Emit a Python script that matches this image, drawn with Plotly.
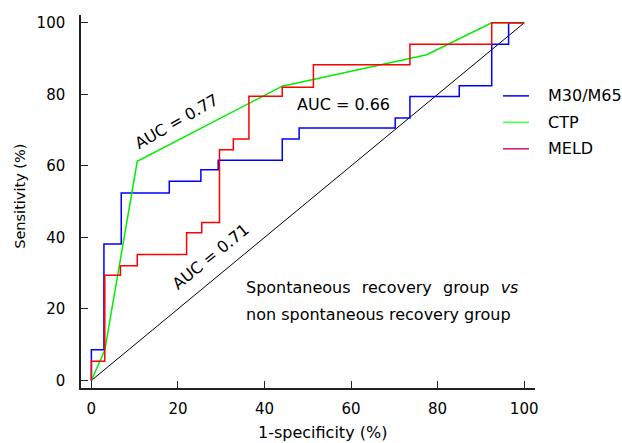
import plotly.graph_objects as go

# ---- data ----
m30_x = [0, 0, 2.9, 6.9, 18.0, 25.3, 29.3, 44.1, 48.0, 70.2, 73.6, 85.0, 92.5, 96.4, 100]
m30_y = [0, 8.6, 38.2, 52.4, 55.7, 58.9, 61.6, 67.5, 70.6, 73.4, 79.4, 82.4, 94.0, 100, 100]

ctp_x = [0, 3.1, 10.6, 44.1, 77.5, 92.5, 100]
ctp_y = [0, 8.5, 61.3, 82.3, 91.1, 100, 100]

meld_x = [0, 0, 3.1, 6.7, 10.6, 22.0, 25.5, 29.6, 32.8, 36.4, 44.1, 51.3, 73.6, 92.5, 100]
meld_y = [0, 5.4, 29.4, 32.1, 35.2, 41.3, 44.2, 64.5, 67.5, 79.5, 82.0, 88.3, 94.0, 100, 100]

ref_x = [0, 100]
ref_y = [0, 100]

series_names = ["M30/M65", "CTP", "MELD"]
legend_colors = ["#0000ff", "#44ff44", "#d0107a"]
tick_vals = [0, 20, 40, 60, 80, 100]
tick_text = ["0", "20", "40", "60", "80", "100"]

FONT = "DejaVu Sans"

fig = go.Figure()
fig.add_trace(go.Scatter(x=ref_x, y=ref_y, mode="lines",
                         line=dict(color="black", width=1), showlegend=False, hoverinfo="skip"))
fig.add_trace(go.Scatter(x=m30_x, y=m30_y, mode="lines", name=series_names[0],
                         line=dict(color="#0000ff", width=1.5, shape="hv"), showlegend=False))
fig.add_trace(go.Scatter(x=ctp_x, y=ctp_y, mode="lines", name=series_names[1],
                         line=dict(color="#00ee00", width=1.5), showlegend=False))
fig.add_trace(go.Scatter(x=meld_x, y=meld_y, mode="lines", name=series_names[2],
                         line=dict(color="#ff0000", width=1.5, shape="hv"), showlegend=False))

L, R, T, B = 81, 87, 15, 54.5
W, H = 622, 443
pw, ph = W - L - R, H - T - B

def px_x(p):
    return (p - L) / pw

def px_y(p):
    return (H - B - p) / ph

shapes = []
annotations = []
# manual legend
for i, (name, col) in enumerate(zip(series_names, legend_colors)):
    yy = px_y(96 + i * 26.5)
    shapes.append(dict(type="line", xref="paper", yref="paper",
                       x0=px_x(503), x1=px_x(529), y0=yy, y1=yy,
                       line=dict(color=col, width=1.5)))
    annotations.append(dict(text=name, xref="paper", yref="paper", x=px_x(546), y=yy,
                            xanchor="left", yanchor="middle", showarrow=False,
                            font=dict(family=FONT, size=16, color="black")))

wide = "\u2002\u2009"  # widened word gap for the justified first line
line1 = wide.join(["Spontaneous", "recovery", "group", "<i>vs</i>"])

# AUC labels and note
annotations += [
    dict(text="AUC = 0.77", x=19.7, y=72.4, textangle=-30, showarrow=False,
         font=dict(family=FONT, size=16, color="black")),
    dict(text="AUC = 0.66", x=58.2, y=77.1, showarrow=False,
         font=dict(family=FONT, size=16, color="black")),
    dict(text="AUC = 0.71", x=27.6, y=34.7, textangle=-39, showarrow=False,
         font=dict(family=FONT, size=16, color="black")),
    dict(text=line1, x=35.3, y=26.0, xanchor="left", showarrow=False,
         font=dict(family=FONT, size=16, color="black")),
    dict(text="non spontaneous recovery group", x=35.3, y=18.4, xanchor="left", showarrow=False,
         font=dict(family=FONT, size=16, color="black")),
    # axis titles
    dict(text="Sensitivity (%)", xref="paper", yref="paper", x=0, xshift=20 - L,
         y=px_y(197), textangle=-90, xanchor="center", yanchor="middle", showarrow=False,
         font=dict(family=FONT, size=14.5, color="black")),
    dict(text="1-specificity (%)", xref="paper", yref="paper", x=px_x(322.5),
         y=px_y(433), xanchor="center", yanchor="middle", showarrow=False,
         font=dict(family=FONT, size=16, color="black")),
]

axis_common = dict(
    showgrid=False, zeroline=False, showline=True, linecolor="#222222", linewidth=1.5,
    ticks="inside", ticklen=7, tickwidth=1, tickcolor="#222222",
    tickvals=tick_vals, ticktext=tick_text,
    tickfont=dict(family=FONT, size=15, color="black"),
)

fig.update_layout(
    width=W, height=H,
    margin=dict(l=L, r=R, t=T, b=B, pad=0),
    plot_bgcolor="white", paper_bgcolor="white",
    xaxis=dict(range=[-2.4, 102.5], ticklabelstandoff=6, **axis_common),
    yaxis=dict(range=[-2.1, 102.2], ticklabelstandoff=11, **axis_common),
    shapes=shapes, annotations=annotations, showlegend=False,
)

fig.write_html("out.html")
